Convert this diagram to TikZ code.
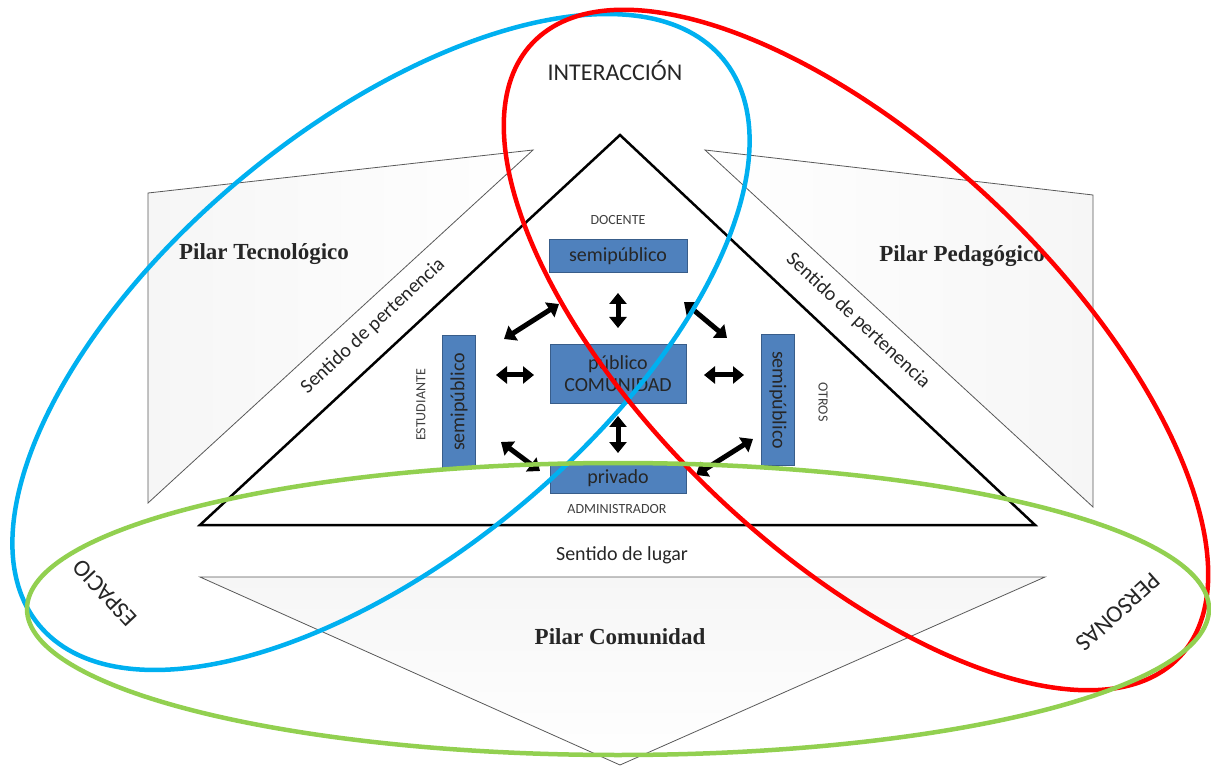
\documentclass[tikz,border=0pt]{standalone}
\usepackage{fontspec}
\setmainfont{Liberation Serif}
\newfontfamily\calibri{Carlito}
\usetikzlibrary{arrows.meta}

\definecolor{boxBlue}{RGB}{79,129,189}
\definecolor{boxEdge}{RGB}{56,93,138}
\definecolor{ringBlue}{RGB}{0,176,240}
\definecolor{ringRed}{RGB}{255,0,0}
\definecolor{ringGreen}{RGB}{146,208,80}
\definecolor{pillarGray}{RGB}{246,246,246}

\tikzset{
    pillar/.style={draw=black!65, line width=0.8pt},
    pillarText/.style={font=\bfseries\fontsize{23}{27}\selectfont, text=black!85},
    zone/.style={draw=boxEdge, fill=boxBlue, line width=1pt, inner sep=0pt,
        align=center, text=black!85, font=\calibri\fontsize{20}{22}\selectfont},
    role/.style={font=\calibri\fontsize{14}{16}\selectfont, text=black!75},
    sense/.style={font=\calibri\fontsize{20}{23}\selectfont, text=black!85},
    dimension/.style={font=\calibri\fontsize{24}{28}\selectfont, text=black!85},
    link/.style={line width=5pt,
        {Triangle[width=17pt,length=11pt]}-{Triangle[width=17pt,length=11pt]}},
    ring/.style={line width=4.5pt},
}

\begin{document}
\begin{tikzpicture}[x=1pt,y=-1pt]
    \useasboundingbox (0,0) rectangle (1211,767);

    % pilares
    \shade[left color=pillarGray, right color=white] (148,193) -- (533,150) -- (148,503) -- cycle;
    \draw[pillar] (148,193) -- (533,150) -- (148,503) -- cycle;
    \shade[left color=white, right color=pillarGray] (705,150) -- (1093,195) -- (1093,507) -- cycle;
    \draw[pillar] (705,150) -- (1093,195) -- (1093,507) -- cycle;
    \shade[top color=pillarGray, bottom color=white] (200,577) -- (1045,577) -- (620,765) -- cycle;
    \draw[pillar] (200,577) -- (1045,577) -- (620,765) -- cycle;

    \node[pillarText] (pilarTec) at (264,254) {Pilar Tecnológico};
    \node[pillarText] (pilarPed) at (962,256) {Pilar Pedagógico};
    \node[pillarText] (pilarCom) at (620,637) {Pilar Comunidad};

    \node[sense, rotate=43] (pertIzq) at (373,326) {Sentido de pertenencia};
    \node[sense, rotate=-43] (pertDer) at (858,321) {Sentido de pertenencia};
    \node[sense] (lugar) at (622,555) {Sentido de lugar};

    % triangulo central
    \draw[line width=2.5pt, fill=white] (200,525) -- (620,135) -- (1035,525) -- cycle;

    % zonas
    \node[zone, minimum width=138pt, minimum height=33pt] (semiTop) at (618,256) {semipúblico};
    \node[zone, minimum width=136pt, minimum height=59pt] (publico) at (618,374) {público\\COMUNIDAD};
    \node[zone, minimum width=136pt, minimum height=31pt] (privado) at (618,478) {privado};
    \node[zone, rotate=90, minimum width=133pt, minimum height=33pt] (semiIzq) at (459,402) {semipúblico};
    \node[zone, rotate=-90, minimum width=130pt, minimum height=33pt] (semiDer) at (778,400) {semipúblico};

    \node[role] (docente) at (618,220) {DOCENTE};
    \node[role] (admin) at (617,509) {ADMINISTRADOR};
    \node[role, rotate=90] (estudiante) at (421,405) {ESTUDIANTE};
    \node[role, rotate=-90] (otros) at (823,402) {OTROS};

    % flechas
    \coordinate (upA) at (618,293);   \coordinate (upB) at (618,328);
    \coordinate (dnA) at (618,416);   \coordinate (dnB) at (618,453);
    \coordinate (ltA) at (496,375);   \coordinate (ltB) at (534,375);
    \coordinate (rtA) at (704,375);   \coordinate (rtB) at (744,375);
    \coordinate (ulA) at (504,339);   \coordinate (ulB) at (559,304);
    \coordinate (urA) at (684,302);   \coordinate (urB) at (727,338);
    \coordinate (llA) at (501,442);   \coordinate (llB) at (540,471);
    \coordinate (lrA) at (696,475);   \coordinate (lrB) at (753,439);
    \foreach \a/\b in {upA/upB, dnA/dnB, ltA/ltB, rtA/rtB, ulA/ulB, urA/urB, llA/llB, lrA/lrB}
        \draw[link] (\a) -- (\b);

    \node[dimension] (interaccion) at (615,71) {INTERACCIÓN};
    \node[dimension, rotate=133] (espacio) at (105,593) {ESPACIO};
    \node[dimension, rotate=222] (personas) at (1118,612) {PERSONAS};

    % anillos
    \draw[ring, ringBlue, rotate around={39.6:(381,342)}] (381,342) ellipse [x radius=444, y radius=215];
    \draw[ring, ringRed, rotate around={-43.5:(856,350)}] (856,350) ellipse [x radius=446, y radius=202];
    \draw[ring, ringGreen] (618,609) ellipse [x radius=591, y radius=146];
\end{tikzpicture}
\end{document}
